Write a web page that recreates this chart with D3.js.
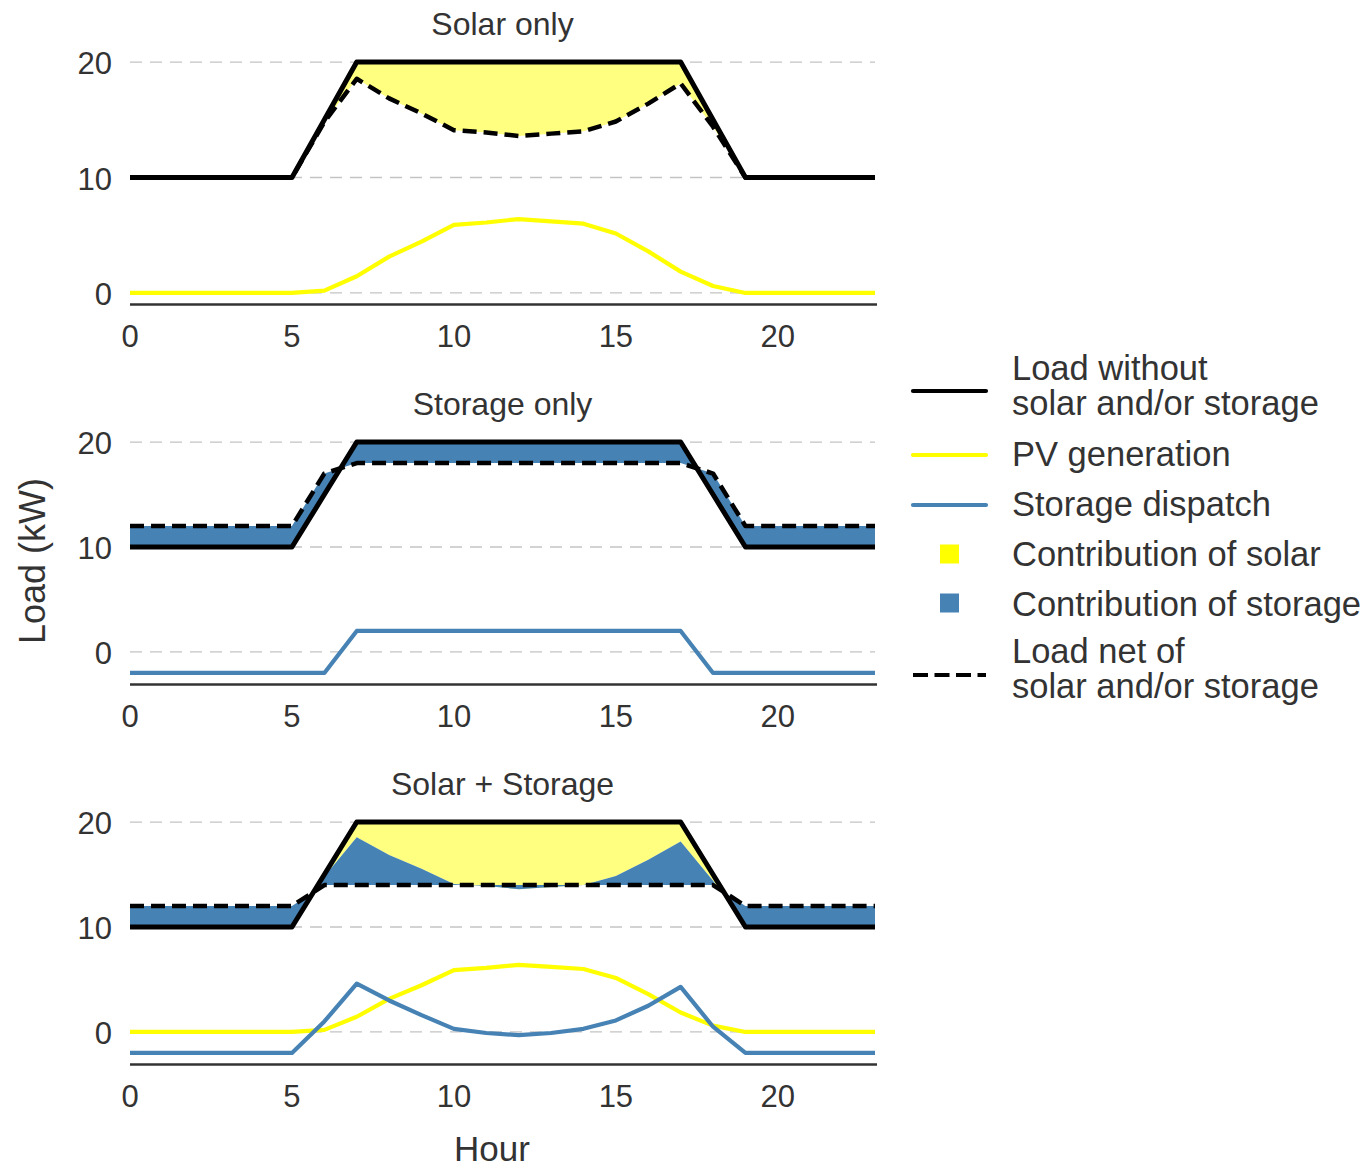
<!DOCTYPE html>
<html>
<head>
<meta charset="utf-8">
<script src="https://cdn.jsdelivr.net/npm/d3@7"></script>
<style>
  html, body { margin: 0; padding: 0; background: #fff; }
  svg { display: block; }
  text { font-family: "Liberation Sans", Arial, sans-serif; fill: #333; }
</style>
</head>
<body>
<svg id="chart" width="1368" height="1169"></svg>
<script>
// ---------------- data ----------------
const hours = [0,1,2,3,4,5,6,7,8,9,10,11,12,13,14,15,16,17,18,19,20,21,22,23];
const loadBase = [10,10,10,10,10,10,15,20,20,20,20,20,20,20,20,20,20,20,15,10,10,10,10,10];
const pvGeneration = [0,0,0,0,0,0,0.2,1.45,3.15,4.45,5.9,6.1,6.4,6.2,6.0,5.15,3.6,1.85,0.6,0,0,0,0,0];
const netSolarOnly = [10,10,10,10,10,10,14.8,18.55,16.85,15.55,14.1,13.9,13.6,13.8,14.0,14.85,16.4,18.15,14.4,10,10,10,10,10];
const storageOnlyDispatch = [-2,-2,-2,-2,-2,-2,-2,2,2,2,2,2,2,2,2,2,2,2,-2,-2,-2,-2,-2,-2];
const netStorageOnly = [12,12,12,12,12,12,17,18,18,18,18,18,18,18,18,18,18,18,17,12,12,12,12,12];
const storageSolarDispatch = [-2,-2,-2,-2,-2,-2,1.0,4.6,3.0,1.6,0.3,-0.1,-0.3,-0.1,0.3,1.1,2.5,4.3,0.5,-2,-2,-2,-2,-2];
const netSolarStorage = [12,12,12,12,12,12,14,14,14,14,14,14,14,14,14,14,14,14,14,12,12,12,12,12];

const panelTitles = ["Solar only", "Storage only", "Solar + Storage"];
const xTicks = [0, 5, 10, 15, 20];
const yTicks = [0, 10, 20];
const legendLabels = [
  ["Load without", "solar and/or storage"],
  ["PV generation"],
  ["Storage dispatch"],
  ["Contribution of solar"],
  ["Contribution of storage"],
  ["Load net of", "solar and/or storage"]
];

// ---------------- styles ----------------
const COL_LOAD = "#000000";
const COL_PV = "#FFFF00";
const COL_SOLAR_FILL = "#FFFF80";
const COL_STORAGE = "#4682B4";

const svg = d3.select("#chart");

const xLeft = 130, xRight = 875;
const x = d3.scaleLinear().domain([0, 23]).range([xLeft, xRight]);

const panels = [
  { title: panelTitles[0], yDomain: [-1, 21],
    ribbons: [{ lo: netSolarOnly, hi: loadBase, fill: COL_SOLAR_FILL }],
    lines: [{ v: pvGeneration, color: COL_PV }],
    net: netSolarOnly },
  { title: panelTitles[1], yDomain: [-3.1, 21.1],
    ribbons: [{ lo: loadBase, hi: netStorageOnly, fill: COL_STORAGE }],
    lines: [{ v: storageOnlyDispatch, color: COL_STORAGE }],
    net: netStorageOnly },
  { title: panelTitles[2], yDomain: [-3.1, 21.1],
    ribbons: [{ lo: netSolarOnly, hi: loadBase, fill: COL_SOLAR_FILL },
              { lo: netSolarStorage, hi: netSolarOnly, fill: COL_STORAGE }],
    lines: [{ v: pvGeneration, color: COL_PV }, { v: storageSolarDispatch, color: COL_STORAGE }],
    net: netSolarStorage }
];

panels.forEach((p, i) => {
  const off = i * 380;
  const top = 50.5 + off, bottom = 304.5 + off;
  const y = d3.scaleLinear().domain(p.yDomain).range([bottom, top]);
  const g = svg.append("g");

  // title
  g.append("text")
    .attr("x", (xLeft + xRight) / 2).attr("y", 35 + off)
    .attr("text-anchor", "middle")
    .style("font-size", "32px")
    .text(p.title);

  // grid
  g.selectAll(".grid").data(yTicks).enter().append("line")
    .attr("x1", xLeft).attr("x2", xRight)
    .attr("y1", d => y(d)).attr("y2", d => y(d))
    .attr("stroke", "#c4c4c4").attr("stroke-width", 1.3)
    .attr("stroke-dasharray", "12,8");

  // y tick labels
  g.selectAll(".yt").data(yTicks).enter().append("text")
    .attr("x", 112).attr("y", d => y(d) + 12)
    .attr("text-anchor", "end")
    .style("font-size", "31px")
    .text(d => d);

  // x axis line + labels
  g.append("line")
    .attr("x1", xLeft).attr("x2", xRight + 2)
    .attr("y1", bottom).attr("y2", bottom)
    .attr("stroke", "#333").attr("stroke-width", 2.5);
  g.selectAll(".xt").data(xTicks).enter().append("text")
    .attr("x", d => x(d)).attr("y", 347 + off)
    .attr("text-anchor", "middle")
    .style("font-size", "31px")
    .text(d => d);

  // ribbons
  p.ribbons.forEach(r => {
    const area = d3.area()
      .x((d, k) => x(hours[k]))
      .y0((d, k) => y(r.lo[k]))
      .y1((d, k) => y(r.hi[k]));
    g.append("path").datum(hours)
      .attr("d", area)
      .attr("fill", r.fill).attr("stroke", "none");
  });

  // series lines
  const lineGen = arr => d3.line().x((d, k) => x(hours[k])).y((d, k) => y(arr[k]))(hours);
  p.lines.forEach(l => {
    g.append("path").attr("d", lineGen(l.v))
      .attr("fill", "none").attr("stroke", l.color)
      .attr("stroke-width", 4.2).attr("stroke-linejoin", "round");
  });

  // net load (dashed)
  g.append("path").attr("d", lineGen(p.net))
    .attr("fill", "none").attr("stroke", COL_LOAD)
    .attr("stroke-width", 4.5).attr("stroke-dasharray", "14,7")
    .attr("stroke-linejoin", "round");

  // base load (solid)
  g.append("path").attr("d", lineGen(loadBase))
    .attr("fill", "none").attr("stroke", COL_LOAD)
    .attr("stroke-width", 5).attr("stroke-linejoin", "round");
});

// axis titles
svg.append("text")
  .attr("transform", "translate(45,561) rotate(-90)")
  .attr("text-anchor", "middle")
  .style("font-size", "36px")
  .text("Load (kW)");
svg.append("text")
  .attr("x", 492).attr("y", 1161)
  .attr("text-anchor", "middle")
  .style("font-size", "35px")
  .text("Hour");

// legend
const lg = svg.append("g");
const keyX1 = 913, keyX2 = 986, textX = 1012;
const keys = [
  { type: "line", color: COL_LOAD, y: 391, base: [380, 415] },
  { type: "line", color: COL_PV, y: 455, base: [466] },
  { type: "line", color: COL_STORAGE, y: 505, base: [516] },
  { type: "rect", color: COL_PV, y: 554, base: [566] },
  { type: "rect", color: COL_STORAGE, y: 603, base: [616] },
  { type: "dash", color: COL_LOAD, y: 675, base: [663, 698] }
];
keys.forEach((k, i) => {
  if (k.type === "rect") {
    lg.append("rect").attr("x", 940).attr("y", k.y - 9.5)
      .attr("width", 19).attr("height", 19).attr("fill", k.color);
  } else {
    lg.append("line").attr("x1", keyX1).attr("x2", keyX2)
      .attr("y1", k.y).attr("y2", k.y)
      .attr("stroke", k.color).attr("stroke-width", 4.2)
      .attr("stroke-linecap", k.type === "dash" ? "butt" : "round")
      .attr("stroke-dasharray", k.type === "dash" ? "15,6.5" : null);
  }
  legendLabels[i].forEach((t, j) => {
    lg.append("text").attr("x", textX).attr("y", k.base[j])
      .style("font-size", "34.5px").text(t);
  });
});
</script>
</body>
</html>
